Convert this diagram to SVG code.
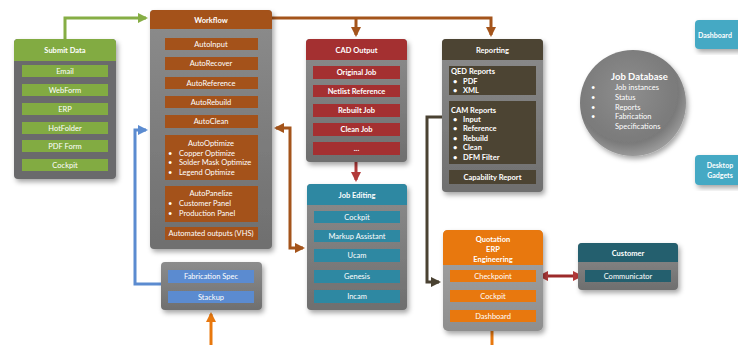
<svg xmlns="http://www.w3.org/2000/svg" width="738" height="345" viewBox="0 0 738 345">
<defs>
<filter id="sh" x="-20%" y="-20%" width="140%" height="140%"><feDropShadow dx="2" dy="3" stdDeviation="2.5" flood-color="#000" flood-opacity="0.35"/></filter>
<linearGradient id="gc" x1="0" y1="0" x2="0" y2="1"><stop offset="0" stop-color="#8c8c8c"/><stop offset="1" stop-color="#6f6f6f"/></linearGradient>
<linearGradient id="gq" x1="0" y1="0" x2="0" y2="1"><stop offset="0" stop-color="#a4a4a4"/><stop offset="1" stop-color="#8e8e8e"/></linearGradient>
<radialGradient id="gdb" cx="0.45" cy="0.4" r="0.6"><stop offset="0" stop-color="#8e8e8e"/><stop offset="0.8" stop-color="#7a7a7a"/><stop offset="1" stop-color="#9a9a9a"/></radialGradient>
<marker id="ag" viewBox="0 0 10 10" refX="8" refY="5" markerWidth="3.4" markerHeight="3.4" orient="auto"><path d="M0 0 L10 5 L0 10 Z" fill="#86ae45"/></marker>
<marker id="ab" viewBox="0 0 10 10" refX="8" refY="5" markerWidth="3.4" markerHeight="3.4" orient="auto"><path d="M0 0 L10 5 L0 10 Z" fill="#5b8bd0"/></marker>
<marker id="aw" viewBox="0 0 10 10" refX="8" refY="5" markerWidth="3.4" markerHeight="3.4" orient="auto-start-reverse"><path d="M0 0 L10 5 L0 10 Z" fill="#a4541b"/></marker>
<marker id="ar" viewBox="0 0 10 10" refX="8" refY="5" markerWidth="3.4" markerHeight="3.4" orient="auto-start-reverse"><path d="M0 0 L10 5 L0 10 Z" fill="#b23a3a"/></marker>
<marker id="ao" viewBox="0 0 10 10" refX="8" refY="5" markerWidth="3.4" markerHeight="3.4" orient="auto"><path d="M0 0 L10 5 L0 10 Z" fill="#4a4232"/></marker>
<marker id="aq" viewBox="0 0 10 10" refX="8" refY="5" markerWidth="3.4" markerHeight="3.4" orient="auto"><path d="M0 0 L10 5 L0 10 Z" fill="#e8780e"/></marker>
</defs>
<style>
text{font-family:Lato,"Liberation Sans",sans-serif;fill:#fff;font-size:7.5px}
.c{text-anchor:middle}
.b{font-weight:bold}
.h{font-weight:bold;font-size:7.5px;text-anchor:middle}
.cont{fill:url(#gc);filter:url(#sh)}
.g{fill:#82ab42}
.w{fill:#a4521a}
.r{fill:#a43031}
.o{fill:#4c4433}
.t{fill:#2e88a2}
.q{fill:#e8780e}
.cu{fill:#245f6e}
.bl{fill:#5b8bd0}
.ln{fill:none;stroke-width:3}
</style>

<g id="connectors">
<path class="ln" d="M65 39 V18 H146" stroke="#86ae45" marker-end="url(#ag)"/>
<path class="ln" d="M161 284 H135 V130 H146" stroke="#5b8bd0" marker-end="url(#ab)"/>
<path class="ln" d="M272 18 H491 V35" stroke="#a4541b" marker-end="url(#aw)"/>
<path class="ln" d="M356 18 V35" stroke="#a4541b" marker-end="url(#aw)"/>
<path class="ln" d="M276 128 H290 V248 H303" stroke="#a4541b" marker-start="url(#aw)" marker-end="url(#aw)"/>
<path class="ln" d="M356 162 V180" stroke="#b23a3a" marker-end="url(#ar)"/>
<path class="ln" d="M442 117 H427 V282 H439" stroke="#4a4232" marker-end="url(#ao)"/>
<path class="ln" d="M540 276 H581" stroke="#9c2a2a" marker-start="url(#ar)" marker-end="url(#ar)"/>
<path class="ln" d="M492 331 V345" stroke="#e8780e"/>
<path class="ln" d="M211 345 V314" stroke="#e8780e" marker-end="url(#aq)"/>
<g stroke="#7e3c14" stroke-width="2" fill="none">
<path d="M211 50 V57"/>
<path d="M211 70 V77"/>
<path d="M211 89 V96"/>
<path d="M211 108 V115"/>
<path d="M211 128 V135"/>
<path d="M211 180 V186"/>
<path d="M211 222 V227"/>
</g>
</g>

<g id="submit-data">
<rect class="cont" x="14" y="39" width="102" height="140" rx="4" style="fill:#6a6a6c"/>
<path class="g" d="M14 61 V43 Q14 39 18 39 H112 Q116 39 116 43 V61 Z"/>
<text class="h" x="65" y="52.5">Submit Data</text>
<rect class="g" x="22" y="65" width="86" height="12"/><text class="c" x="65" y="73.5">Email</text>
<rect class="g" x="22" y="84" width="86" height="12"/><text class="c" x="65" y="92.5">WebForm</text>
<rect class="g" x="22" y="103" width="86" height="12"/><text class="c" x="65" y="111.5">ERP</text>
<rect class="g" x="22" y="122" width="86" height="12"/><text class="c" x="65" y="130.5">HotFolder</text>
<rect class="g" x="22" y="140" width="86" height="12"/><text class="c" x="65" y="148.5">PDF Form</text>
<rect class="g" x="22" y="159" width="86" height="12"/><text class="c" x="65" y="167.5">Cockpit</text>
</g>

<g id="workflow">
<rect class="cont" x="150" y="10" width="122" height="239" rx="4"/>
<path class="w" d="M150 29 V14 Q150 10 154 10 H268 Q272 10 272 14 V29 Z"/>
<text class="h" x="211" y="22.5">Workflow</text>
<rect class="w" x="165" y="38" width="93" height="12"/><text class="c" x="211" y="46.5">AutoInput</text>
<rect class="w" x="165" y="57" width="93" height="13"/><text class="c" x="211" y="66">AutoRecover</text>
<rect class="w" x="165" y="77" width="93" height="12"/><text class="c" x="211" y="85.5">AutoReference</text>
<rect class="w" x="165" y="96" width="93" height="12"/><text class="c" x="211" y="104.5">AutoRebuild</text>
<rect class="w" x="165" y="115" width="93" height="13"/><text class="c" x="211" y="124">AutoClean</text>
<rect class="w" x="165" y="135" width="93" height="45"/>
<text class="c" x="211" y="146">AutoOptimize</text>
<text x="168" y="155.5">•</text><text x="179" y="155.5">Copper Optimize</text>
<text x="168" y="165">•</text><text x="179" y="165">Solder Mask Optimize</text>
<text x="168" y="174.5">•</text><text x="179" y="174.5">Legend Optimize</text>
<rect class="w" x="165" y="186" width="93" height="36"/>
<text class="c" x="211" y="196">AutoPanelize</text>
<text x="168" y="205.5">•</text><text x="179" y="205.5">Customer Panel</text>
<text x="168" y="215.5">•</text><text x="179" y="215.5">Production Panel</text>
<rect class="w" x="165" y="227" width="93" height="13"/><text class="c" x="211" y="236">Automated outputs (VHS)</text>
</g>

<g id="cad-output">
<rect class="cont" x="306" y="39" width="101" height="123" rx="4"/>
<path class="r" d="M306 60 V43 Q306 39 310 39 H403 Q407 39 407 43 V60 Z"/>
<text class="h" x="356.5" y="53">CAD Output</text>
<rect class="r" x="313" y="66" width="87" height="13"/><text class="c b" x="356.5" y="75">Original Job</text>
<rect class="r" x="313" y="85" width="87" height="12"/><text class="c b" x="356.5" y="93.5">Netlist Reference</text>
<rect class="r" x="313" y="104" width="87" height="13"/><text class="c b" x="356.5" y="113">Rebuilt Job</text>
<rect class="r" x="313" y="123" width="87" height="13"/><text class="c b" x="356.5" y="132">Clean Job</text>
<rect class="r" x="313" y="142" width="87" height="13"/><text class="c b" x="356.5" y="150.5">...</text>
</g>

<g id="reporting">
<rect class="cont" x="442" y="39" width="101" height="153" rx="4"/>
<path class="o" d="M442 60 V43 Q442 39 446 39 H539 Q543 39 543 43 V60 Z"/>
<text class="h" x="492.5" y="53">Reporting</text>
<rect class="o" x="449" y="66" width="87" height="29"/>
<text class="b" x="451" y="73.5">QED Reports</text>
<text class="b" x="453" y="83.5">•</text><text class="b" x="463" y="83.5">PDF</text>
<text class="b" x="453" y="93">•</text><text class="b" x="463" y="93">XML</text>
<rect class="o" x="449" y="101" width="87" height="63"/>
<text class="b" x="451" y="112.5">CAM Reports</text>
<text class="b" x="453" y="121.5">•</text><text class="b" x="463" y="121.5">Input</text>
<text class="b" x="453" y="131">•</text><text class="b" x="463" y="131">Reference</text>
<text class="b" x="453" y="140.5">•</text><text class="b" x="463" y="140.5">Rebuild</text>
<text class="b" x="453" y="150">•</text><text class="b" x="463" y="150">Clean</text>
<text class="b" x="453" y="159.5">•</text><text class="b" x="463" y="159.5">DFM Filter</text>
<rect class="o" x="449" y="170" width="87" height="14"/><text class="c b" x="492.5" y="180">Capability Report</text>
</g>

<g id="job-editing">
<rect class="cont" x="307" y="184" width="100" height="126" rx="4"/>
<path class="t" d="M307 205 V188 Q307 184 311 184 H403 Q407 184 407 188 V205 Z"/>
<text class="h" x="357" y="198">Job Editing</text>
<rect class="t" x="314" y="211" width="86" height="12"/><text class="c" x="357" y="219.5">Cockpit</text>
<rect class="t" x="314" y="230" width="86" height="12"/><text class="c" x="357" y="238.5">Markup Assistant</text>
<rect class="t" x="314" y="249" width="86" height="13"/><text class="c" x="357" y="258">Ucam</text>
<rect class="t" x="314" y="270" width="86" height="13"/><text class="c" x="357" y="279">Genesis</text>
<rect class="t" x="314" y="290" width="86" height="13"/><text class="c" x="357" y="299">Incam</text>
</g>

<g id="quotation">
<rect x="443" y="230" width="100" height="101" rx="5" fill="url(#gq)" filter="url(#sh)"/>
<path class="q" d="M443 265 V235 Q443 230 448 230 H538 Q543 230 543 235 V265 Z"/>
<text class="h" x="493" y="242">Quotation</text>
<text class="h" x="493" y="252">ERP</text>
<text class="h" x="493" y="262">Engineering</text>
<rect class="q" x="450" y="270" width="86" height="12"/><text class="c" x="493" y="278.5">Checkpoint</text>
<rect class="q" x="450" y="290" width="86" height="12"/><text class="c" x="493" y="298.5">Cockpit</text>
<rect class="q" x="450" y="310" width="86" height="12"/><text class="c" x="493" y="318.5">Dashboard</text>
</g>

<g id="customer">
<rect class="cont" x="578" y="243" width="100" height="47" rx="4"/>
<path class="cu" d="M578 262 V247 Q578 243 582 243 H674 Q678 243 678 247 V262 Z"/>
<text class="h" x="628" y="255.5">Customer</text>
<rect class="cu" x="585" y="270" width="86" height="12"/><text class="c" x="628" y="278.5">Communicator</text>
</g>

<g id="fabrication">
<rect class="cont" x="161" y="262" width="101" height="48" rx="4"/>
<rect class="bl" x="168" y="270" width="86" height="13"/><text class="c" x="211" y="279">Fabrication Spec</text>
<rect class="bl" x="168" y="291" width="86" height="12"/><text class="c" x="211" y="299.5">Stackup</text>
</g>

<g id="job-database">
<circle cx="633" cy="103" r="53" fill="url(#gdb)" filter="url(#sh)"/>
<text x="611" y="80" style="font-size:9.5px;font-weight:bold">Job Database</text>
<text x="591" y="89.5">•</text><text x="615" y="89.5">Job instances</text>
<text x="591" y="99.5">•</text><text x="615" y="99.5">Status</text>
<text x="591" y="109.5">•</text><text x="615" y="109.5">Reports</text>
<text x="591" y="119">•</text><text x="615" y="119">Fabrication</text>
<text x="615" y="128.5">Specifications</text>
</g>

<g id="dashboard">
<rect x="695" y="20" width="50" height="29" rx="4" fill="#45a9c4" filter="url(#sh)"/>
<text class="b" x="698" y="37.5" style="font-size:7px">Dashboard</text>
</g>

<g id="desktop-gadgets">
<rect x="695" y="155" width="50" height="30" rx="4" fill="#45a9c4" filter="url(#sh)"/>
<text class="c b" x="720" y="168" style="font-size:7px">Desktop</text>
<text class="c b" x="720" y="178" style="font-size:7px">Gadgets</text>
</g>
</svg>
